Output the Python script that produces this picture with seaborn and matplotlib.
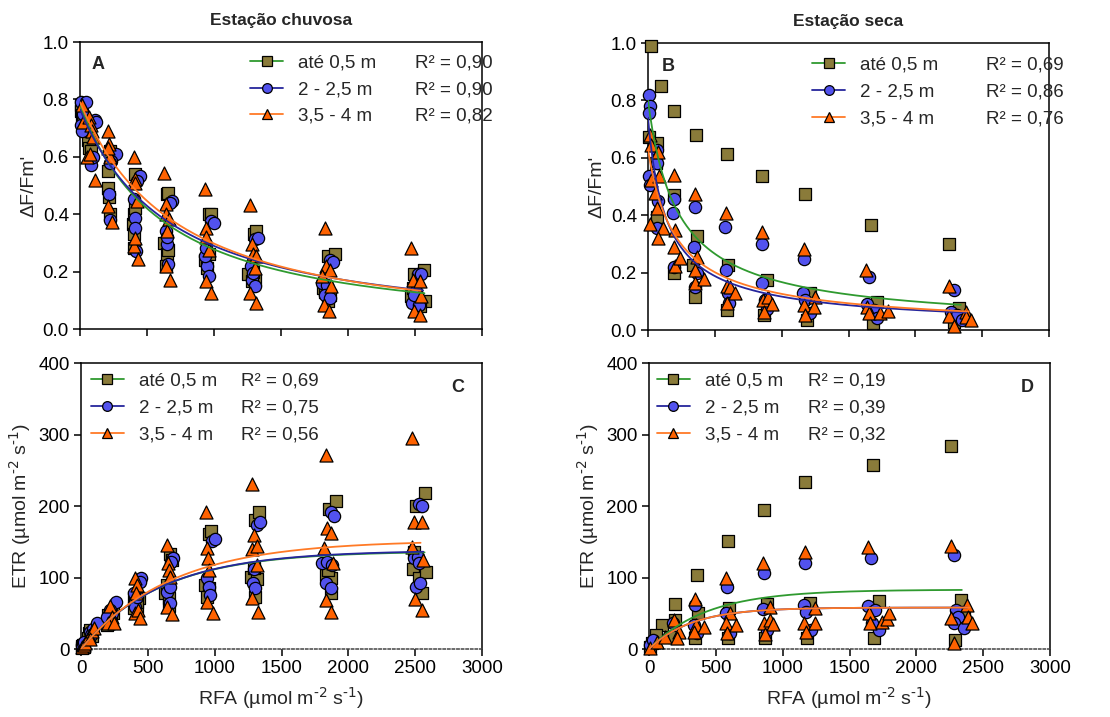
import numpy as np
import pandas as pd
import matplotlib
matplotlib.use("Agg")
import matplotlib.pyplot as plt
from matplotlib.lines import Line2D
from matplotlib.ticker import FormatStrFormatter
import seaborn as sns

# ---------------------------------------------------------------- data
DEPTHS = ["até 0,5 m", "2 - 2,5 m", "3,5 - 4 m"]

# Wet season, effective quantum yield (dF/Fm')
wet_yield_x_sq = [5, 10, 15, 20, 60, 70, 75, 80, 205, 210, 215, 220, 225,
                  395, 403, 405, 400, 410, 410, 650, 660, 625, 650, 640, 655,
                  960, 978, 935, 948, 960, 1295, 1315, 1255, 1280, 1305, 1290,
                  1850, 1900, 1815, 1865, 1850, 1830, 2565, 2495, 2470, 2575, 2540, 2485]
wet_yield_y_sq = [0.78, 0.76, 0.745, 0.72, 0.66, 0.63, 0.69, 0.62, 0.55, 0.49, 0.46, 0.40, 0.62,
                  0.365, 0.40, 0.33, 0.283, 0.54, 0.423, 0.47, 0.475, 0.30, 0.26, 0.22, 0.277,
                  0.40, 0.40, 0.242, 0.213, 0.26, 0.33, 0.341, 0.19, 0.167, 0.172, 0.20,
                  0.254, 0.26, 0.143, 0.12, 0.097, 0.13, 0.204, 0.192, 0.114, 0.097, 0.079, 0.143]
wet_yield_x_ci = [10, 45, 5, 15, 25, 110, 85, 95, 120, 265, 230, 215, 220, 225,
                  446, 400, 413, 408, 420, 425, 686, 675, 638, 650, 660, 650,
                  975, 996, 945, 960, 935, 940, 1306, 1330, 1275, 1282, 1306, 1290,
                  1865, 1890, 1802, 1840, 1827, 1865, 2520, 2508, 2478, 2530, 2495, 2545]
wet_yield_y_ci = [0.79, 0.79, 0.71, 0.69, 0.75, 0.73, 0.57, 0.60, 0.72, 0.61, 0.586, 0.47, 0.38, 0.58,
                  0.534, 0.452, 0.388, 0.353, 0.272, 0.515, 0.446, 0.44, 0.34, 0.295, 0.225, 0.32,
                  0.376, 0.368, 0.219, 0.184, 0.254, 0.283, 0.312, 0.316, 0.219, 0.172, 0.149, 0.196,
                  0.242, 0.234, 0.161, 0.155, 0.12, 0.108, 0.192, 0.132, 0.091, 0.085, 0.12, 0.19]
wet_yield_x_tr = [15, 25, 70, 80, 90, 100, 50, 75, 115, 208, 215, 220, 212, 208, 240,
                  401, 413, 413, 425, 401, 413, 434, 630, 645, 638, 662, 650, 638, 674,
                  934, 942, 940, 960, 942, 976, 1269, 1281, 1294, 1313, 1306, 1269, 1313,
                  1826, 1839, 1864, 1809, 1876, 1822, 1859, 2466, 2483, 2538, 2545, 2490, 2538]
wet_yield_y_tr = [0.78, 0.72, 0.74, 0.71, 0.69, 0.67, 0.60, 0.61, 0.52, 0.69, 0.645, 0.60, 0.63, 0.427, 0.373,
                  0.598, 0.522, 0.51, 0.446, 0.289, 0.318, 0.245, 0.543, 0.435, 0.40, 0.382, 0.341, 0.219, 0.172,
                  0.487, 0.353, 0.32, 0.277, 0.167, 0.124, 0.432, 0.295, 0.26, 0.254, 0.213, 0.126, 0.091,
                  0.353, 0.219, 0.207, 0.184, 0.149, 0.085, 0.064, 0.283, 0.172, 0.167, 0.114, 0.064, 0.05]

# Dry season, effective quantum yield (dF/Fm')
dry_yield_x_sq = [20, 95, 195, 362, 588, 855, 1175, 1670, 2255,
                  5, 70, 62, 70, 195, 195, 368, 350, 338, 595, 593, 888, 868,
                  1208, 1188, 1713, 1683, 2330, 2288]
dry_yield_y_sq = [0.988, 0.849, 0.762, 0.68, 0.613, 0.538, 0.473, 0.367, 0.30,
                  0.674, 0.651, 0.581, 0.393, 0.471, 0.198, 0.326, 0.116, 0.227, 0.227, 0.07, 0.174, 0.052,
                  0.13, 0.035, 0.099, 0.026, 0.076, 0.029]
dry_yield_x_ci = [5, 12, 8, 5, 17, 70, 70, 75, 70, 195, 187, 195, 350, 345, 355, 368,
                  575, 580, 595, 605, 855, 850, 875, 888, 1170, 1163, 1175, 1213,
                  1655, 1638, 1688, 1713, 2288, 2263, 2313, 2350]
dry_yield_y_ci = [0.82, 0.78, 0.756, 0.535, 0.506, 0.628, 0.581, 0.448, 0.355, 0.456, 0.407, 0.221,
                  0.43, 0.29, 0.151, 0.198, 0.36, 0.209, 0.128, 0.093, 0.299, 0.163, 0.105, 0.072,
                  0.248, 0.128, 0.105, 0.058, 0.186, 0.091, 0.07, 0.041, 0.14, 0.064, 0.052, 0.035]
dry_yield_x_tr = [12, 25, 20, 12, 75, 80, 55, 70, 112, 75, 195, 200, 195, 200, 238,
                  355, 368, 355, 350, 418, 580, 588, 613, 588, 650, 855, 863, 900, 930, 868,
                  1168, 1170, 1250, 1238, 1175, 1633, 1638, 1650, 1738, 1795,
                  2250, 2255, 2288, 2375, 2375, 2413]
dry_yield_y_tr = [0.68, 0.645, 0.523, 0.37, 0.622, 0.535, 0.477, 0.424, 0.355, 0.32, 0.54, 0.349, 0.291, 0.224, 0.25,
                  0.474, 0.256, 0.209, 0.165, 0.177, 0.407, 0.153, 0.149, 0.093, 0.128, 0.343, 0.105, 0.116, 0.091, 0.064,
                  0.281, 0.087, 0.116, 0.079, 0.052, 0.209, 0.081, 0.058, 0.058, 0.067,
                  0.155, 0.049, 0.014, 0.064, 0.047, 0.035]

# Wet season, electron transport rate
wet_etr_x_sq = [5, 10, 15, 20, 60, 70, 80, 55, 205, 218, 238, 198, 225,
                393, 405, 418, 430, 395, 420, 668, 680, 630, 655, 643, 660,
                955, 975, 930, 955, 943, 1298, 1330, 1273, 1313, 1305, 1293,
                1855, 1905, 1830, 1868, 1868, 1850, 2573, 2505, 2493, 2480, 2530, 2548, 2580]
wet_etr_y_sq = [2, 4, 6, 3, 22, 26, 18, 15, 48, 40, 51, 34, 44,
                73, 64, 59, 71, 57, 66, 133, 125, 78, 71, 90, 60,
                161, 165, 90, 85, 73, 181, 191, 101, 98, 73, 113,
                196, 207, 104, 99, 78, 110, 218, 200, 136, 112, 99, 79, 108]
wet_etr_x_ci = [5, 15, 25, 65, 90, 118, 75, 263, 230, 218, 193,
                448, 438, 405, 418, 393, 688, 673, 643, 663, 668,
                980, 1005, 943, 955, 968, 1318, 1338, 1288, 1305, 1293,
                1868, 1893, 1805, 1843, 1830, 1868, 1880, 2530, 2548, 2493, 2518, 2530, 2505, 2538]
wet_etr_y_ci = [5, 8, 10, 24, 28, 36, 20, 66, 50, 55, 45,
                99, 94, 59, 73, 78, 127, 122, 80, 87, 64,
                151, 154, 99, 87, 76, 174, 177, 92, 85, 112,
                191, 186, 121, 122, 92, 86, 118, 203, 200, 127, 129, 120, 87, 92]
wet_etr_x_tr = [10, 20, 30, 60, 85, 100, 70, 218, 230, 205, 243,
                405, 418, 413, 405, 423, 443, 643, 648, 655, 668, 643, 680,
                937, 943, 948, 955, 943, 985, 1280, 1293, 1280, 1318, 1318, 1280, 1323,
                1830, 1843, 1868, 1818, 1888, 1830, 1868, 2475, 2488, 2548, 2473, 2555, 2500, 2548]
wet_etr_y_tr = [3, 6, 9, 18, 25, 30, 14, 60, 45, 36, 36,
                99, 90, 78, 50, 54, 44, 146, 120, 111, 101, 59, 49,
                191, 141, 127, 111, 66, 51, 231, 160, 140, 144, 118, 71, 52,
                272, 169, 162, 141, 121, 69, 52, 295, 177, 177, 143, 125, 70, 54]

# Dry season, electron transport rate
dry_etr_x_sq = [8, 20, 95, 195, 358, 590, 858, 1170, 1673, 2258,
                52, 188, 195, 365, 345, 595, 590, 883, 870, 1203, 1183,
                1720, 1683, 2333, 2358, 2288]
dry_etr_y_sq = [3, 8, 34, 63, 103, 151, 195, 233, 258, 284,
                20, 17, 41, 51, 15, 58, 15, 63, 16, 65, 15,
                67, 15, 68, 48, 13]
dry_etr_x_ci = [8, 33, 178, 345, 358, 338, 583, 578, 608, 858, 850, 883,
                1165, 1163, 1178, 1208, 1658, 1638, 1688, 1720, 1668,
                2283, 2295, 2313, 2283, 2353]
dry_etr_y_ci = [6, 13, 36, 62, 22, 34, 87, 50, 22, 107, 56, 27,
                120, 62, 52, 26, 128, 60, 54, 27, 36,
                132, 55, 45, 36, 30]
dry_etr_x_tr = [8, 58, 120, 188, 228, 208, 345, 353, 413, 340,
                578, 608, 578, 653, 583, 850, 908, 858, 903, 928, 865,
                1165, 1245, 1163, 1245, 1175, 1638, 1645, 1650, 1740, 1778, 1795,
                2258, 2378, 2258, 2383, 2413, 2283]
dry_etr_y_tr = [1, 10, 17, 41, 24, 15, 70, 34, 31, 24,
                99, 50, 36, 34, 22, 120, 59, 36, 41, 35, 21,
                136, 57, 37, 37, 24, 143, 51, 37, 38, 42, 50,
                144, 62, 44, 45, 36, 8]

# Fitted curves: yield = y0 * (1 + I/k)^-p ; ETR = Pmax * (1 - exp(-I/k))
wet_yield_fit = [(0.78, 800, 1.275), (0.765, 850, 1.25), (0.79, 1000, 1.408)]
dry_yield_fit = [(0.80, 188, 0.85), (0.74, 110, 0.80), (0.63, 177, 0.85)]
wet_etr_fit = [(137, 594), (138, 600), (152, 670)]
dry_etr_fit = [(83, 431), (58, 317), (58, 317)]
wet_fit_end = [2570, 2560, 2540]
dry_fit_end = [2340, 2380, 2400]

r2_wet_yield = ["0,90", "0,90", "0,82"]
r2_dry_yield = ["0,69", "0,86", "0,76"]
r2_wet_etr = ["0,69", "0,75", "0,56"]
r2_dry_etr = ["0,19", "0,39", "0,32"]

# ---------------------------------------------------------------- style
sns.set_theme(style="ticks")
plt.rcParams["font.family"] = ["Liberation Sans", "DejaVu Sans"]
plt.rcParams["mathtext.default"] = "regular"
plt.rcParams["axes.linewidth"] = 1.1

FILL = ["#8a7b3a", "#5252ee", "#ff6200"]
LINE = ["#2f9a2f", "#25259c", "#ff7a26"]
MARK = ["s", "o", "^"]
SIZE = [78, 78, 88]


def yield_model(i, y0, k, p):
    return y0 * (1.0 + i / k) ** (-p)


def etr_model(i, pmax, k):
    return pmax * (1.0 - np.exp(-i / k))


def draw_panel(ax, xs, ys, model, params, ends, r2, letter, letter_xy,
               leg_xy, r2_x, ylim, yticks, ylabel, xlabel, bottom_dotted):
    for j in range(3):
        df = pd.DataFrame({"x": xs[j], "y": ys[j]})
        sns.scatterplot(data=df, x="x", y="y", marker=MARK[j], s=SIZE[j],
                        color=FILL[j], edgecolor="black", linewidth=0.9,
                        ax=ax, clip_on=False, zorder=3, legend=False)
    for j in range(3):
        grid = np.linspace(0, ends[j], 300)
        sns.lineplot(x=grid, y=model(grid, *params[j]), color=LINE[j],
                     lw=1.3, ax=ax, zorder=4, estimator=None, sort=False)

    ax.set_xlim(0, 3000)
    ax.set_ylim(*ylim)
    ax.set_xticks(np.arange(0, 3001, 500))
    ax.set_yticks(yticks)
    ax.tick_params(direction="out", length=5, width=1.1, labelsize=13.5,
                   colors="black", pad=3)
    for sp in ax.spines.values():
        sp.set_color("black")
    if bottom_dotted:
        ax.spines["bottom"].set_linestyle((0, (1.5, 1.5)))
        ax.spines["bottom"].set_color("#444444")
    ax.set_ylabel(ylabel, fontsize=14, labelpad=4)
    if xlabel:
        ax.set_xlabel(xlabel, fontsize=14, labelpad=6)
    else:
        ax.set_xlabel("")
        ax.set_xticklabels([])

    ax.text(letter_xy[0], letter_xy[1], letter, transform=ax.transAxes,
            fontsize=13, fontweight="bold", ha="center", va="center")

    handles = [Line2D([], [], color=LINE[j], lw=1.3, marker=MARK[j],
                      markersize=7 if j < 2 else 7.5,
                      markerfacecolor=FILL[j], markeredgecolor="black",
                      markeredgewidth=0.9) for j in range(3)]
    leg = ax.legend(handles, DEPTHS, loc="upper left", bbox_to_anchor=leg_xy,
                    frameon=False, fontsize=13.5, handlelength=1.75,
                    handletextpad=0.8, labelspacing=0.52, borderpad=0,
                    borderaxespad=0)
    ax.add_artist(leg)
    blanks = [Line2D([], [], linestyle="none") for _ in range(3)]
    ax.legend(blanks, [f"R² = {v}" for v in r2], loc="upper left",
              bbox_to_anchor=(r2_x, leg_xy[1]), frameon=False, fontsize=13.5,
              handlelength=0, handletextpad=0, labelspacing=0.52,
              borderpad=0, borderaxespad=0)


fig = plt.figure(figsize=(11.1, 7.17), dpi=100)
axA = fig.add_axes([0.0721, 0.5411, 0.3622, 0.4003])
axB = fig.add_axes([0.5838, 0.5397, 0.3613, 0.4003])
axC = fig.add_axes([0.0730, 0.0948, 0.3613, 0.3989])
axD = fig.add_axes([0.5847, 0.0948, 0.3613, 0.3989])

yl_yield = "ΔF/Fm'"
yl_etr = r"ETR (µmol m$^{\text{-2}}$ s$^{\text{-1}}$)"
xl = r"RFA (µmol m$^{\text{-2}}$ s$^{\text{-1}}$)"

draw_panel(axA, [wet_yield_x_sq, wet_yield_x_ci, wet_yield_x_tr],
           [wet_yield_y_sq, wet_yield_y_ci, wet_yield_y_tr],
           yield_model, wet_yield_fit, wet_fit_end, r2_wet_yield, "A",
           (0.045, 0.92), (0.423, 0.958), 0.833, (0, 1.0),
           np.arange(0, 1.01, 0.2), yl_yield, None, False)
draw_panel(axB, [dry_yield_x_sq, dry_yield_x_ci, dry_yield_x_tr],
           [dry_yield_y_sq, dry_yield_y_ci, dry_yield_y_tr],
           yield_model, dry_yield_fit, dry_fit_end, r2_dry_yield, "B",
           (0.05, 0.917), (0.41, 0.953), 0.843, (0, 1.0),
           np.arange(0, 1.01, 0.2), yl_yield, None, False)
draw_panel(axC, [wet_etr_x_sq, wet_etr_x_ci, wet_etr_x_tr],
           [wet_etr_y_sq, wet_etr_y_ci, wet_etr_y_tr],
           etr_model, wet_etr_fit, wet_fit_end, r2_wet_etr, "C",
           (0.94, 0.913), (0.025, 0.966), 0.40, (0, 400),
           np.arange(0, 401, 100), yl_etr, xl, True)
draw_panel(axD, [dry_etr_x_sq, dry_etr_x_ci, dry_etr_x_tr],
           [dry_etr_y_sq, dry_etr_y_ci, dry_etr_y_tr],
           etr_model, dry_etr_fit, dry_fit_end, r2_dry_etr, "D",
           (0.943, 0.913), (0.02, 0.966), 0.397, (0, 400),
           np.arange(0, 401, 100), yl_etr, xl, True)

for ax in (axA, axB):
    ax.yaxis.set_major_formatter(FormatStrFormatter("%.1f"))

axA.set_title("Estação chuvosa", fontsize=12.5, fontweight="bold", pad=12)
axB.set_title("Estação seca", fontsize=12.5, fontweight="bold", pad=12)

fig.savefig("out.png", dpi=100)
